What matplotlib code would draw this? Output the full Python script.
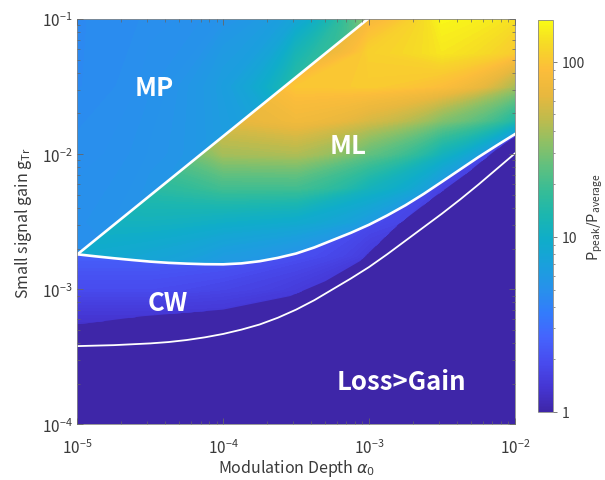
import numpy as np
import matplotlib.pyplot as plt
from matplotlib.colors import LinearSegmentedColormap, LogNorm, Normalize
from matplotlib.patches import Polygon
from matplotlib.cm import ScalarMappable

plt.rcParams['font.family'] = ['Noto Sans CJK JP', 'DejaVu Sans']

# ---- data (log10 of alpha0, log10 of gTr, log10 of Ppeak/Paverage) ----
# mode-locked (ML) region, rows follow ml_logy
ml_logx = [-5.0, -4.5, -4.0, -3.5, -3.0, -2.5, -2.0]
ml_logy = [-3.0, -2.75, -2.5, -2.25, -2.0, -1.75, -1.5, -1.25, -1.0]
ml_logp = [
    [0.80, 0.80, 0.70, 0.65, 0.55, 0.45, 0.40],
    [0.95, 0.90, 0.80, 0.72, 0.60, 0.50, 0.40],
    [1.05, 1.05, 1.00, 0.95, 0.80, 0.55, 0.40],
    [1.15, 1.20, 1.30, 1.30, 1.06, 0.75, 0.45],
    [1.25, 1.35, 1.60, 1.63, 1.40, 1.05, 0.45],
    [1.35, 1.50, 1.80, 1.88, 1.75, 1.50, 1.15],
    [1.45, 1.60, 1.85, 2.00, 2.02, 1.95, 1.60],
    [1.55, 1.65, 1.75, 1.75, 2.05, 2.15, 2.02],
    [1.60, 1.70, 1.70, 1.65, 1.90, 2.22, 2.12],
]

# multi-pulse (MP) region
mp_logx = [-5.0, -4.5, -4.0, -3.5, -3.0]
mp_logy = [-2.75, -2.5, -2.0, -1.5, -1.0]
mp_logp = [
    [0.68, 0.74, 0.78, 0.82, 0.85],
    [0.70, 0.75, 0.82, 0.86, 0.90],
    [0.68, 0.72, 0.80, 0.92, 1.00],
    [0.66, 0.70, 0.82, 1.20, 1.40],
    [0.66, 0.68, 0.72, 0.88, 1.60],
]

# continuous-wave (CW) band
cw_logx = [-5.0, -4.5, -4.0, -3.5, -3.0, -2.5, -2.0]
cw_logy = [-3.25, -3.0, -2.75, -2.5, -2.25, -2.0, -1.75]
cw_logp = [
    [0.12, 0.12, 0.12, 0.10, 0.08, 0.08, 0.08],
    [0.28, 0.28, 0.24, 0.18, 0.12, 0.10, 0.10],
    [0.40, 0.40, 0.38, 0.30, 0.18, 0.12, 0.10],
    [0.45, 0.45, 0.45, 0.40, 0.28, 0.15, 0.12],
    [0.45, 0.45, 0.45, 0.42, 0.35, 0.22, 0.15],
    [0.45, 0.45, 0.45, 0.42, 0.38, 0.30, 0.20],
    [0.45, 0.45, 0.45, 0.42, 0.38, 0.35, 0.25],
]

# boundary lines
mp_line_logx = [-5.0, -3.008]
mp_line_logy = [-2.741, -1.0]
upper_logx = [-5.0, -4.875, -4.75, -4.625, -4.5, -4.375, -4.25, -4.125, -4.0,
              -3.875, -3.75, -3.625, -3.5, -3.375, -3.25, -3.125, -3.0,
              -2.875, -2.75, -2.625, -2.5, -2.375, -2.25, -2.125, -2.0]
upper_logy = [-2.741, -2.756, -2.770, -2.783, -2.795, -2.804, -2.810, -2.814, -2.815,
              -2.808, -2.792, -2.767, -2.735, -2.690, -2.636, -2.582, -2.522,
              -2.453, -2.378, -2.294, -2.204, -2.113, -2.022, -1.936, -1.852]
lower_logx = [-5.0, -4.75, -4.5, -4.375, -4.25, -4.125, -4.0, -3.875, -3.75,
              -3.625, -3.5, -3.375, -3.25, -3.125, -3.0, -2.875, -2.75,
              -2.625, -2.5, -2.375, -2.25, -2.125, -2.0]
lower_logy = [-3.420, -3.413, -3.400, -3.390, -3.375, -3.355, -3.330, -3.298, -3.260,
              -3.210, -3.150, -3.080, -3.000, -2.920, -2.835, -2.740, -2.640,
              -2.540, -2.440, -2.335, -2.225, -2.110, -1.995]
# lower edge of the CW band (below it Ppeak/Paverage = 1)
edge_logx = [-5.0, -4.56, -4.0, -3.54, -3.30, -3.06, -2.80, -2.57, -2.34, -2.12, -2.0]
edge_logy = [-3.26, -3.20, -3.15, -3.05, -2.94, -2.79, -2.52, -2.33, -2.15, -1.96, -1.87]

labels = ['MP', 'ML', 'CW', 'Loss>Gain']
label_x = [3.37e-5, 7.16e-4, 4.18e-5, 1.68e-3]
label_y = [3.12e-2, 1.15e-2, 8.0e-4, 2.08e-4]

# parula-like colormap
parula = LinearSegmentedColormap.from_list('parula', [
    (0.00, '#3e26a8'), (0.06, '#4535d2'), (0.125, '#484bee'), (0.19, '#4564fd'),
    (0.25, '#337bfc'), (0.31, '#2890ec'), (0.375, '#1aa0dc'), (0.44, '#0fadc9'),
    (0.50, '#1bb6b0'), (0.56, '#34bc98'), (0.625, '#5ec080'), (0.69, '#90c064'),
    (0.75, '#c0bb4c'), (0.81, '#e8b83e'), (0.875, '#fcbd3a'), (0.94, '#f6da26'),
    (1.00, '#f9fb15')])
pmax = 173
norm = LogNorm(vmin=1, vmax=pmax)
lnorm = Normalize(vmin=0, vmax=np.log10(pmax))
levels = np.linspace(0, np.log10(pmax), 160)


def pw(a):
    return 10.0 ** np.asarray(a, dtype=float)


fig = plt.figure(figsize=(6.05, 4.81), dpi=100)
ax = fig.add_axes([0.128, 0.1154, 0.723, 0.843])
cax = fig.add_axes([0.889, 0.1414, 0.0248, 0.815])

ax.set_xscale('log')
ax.set_yscale('log')
ax.set_xlim(1e-5, 1e-2)
ax.set_ylim(1e-4, 1e-1)
ax.set_facecolor(parula(0.0))

ml_poly = list(zip(pw(mp_line_logx), pw(mp_line_logy))) + [(1e-2, 1e-1)] + \
    list(zip(pw(upper_logx), pw(upper_logy)))[::-1]
mp_poly = [(1e-5, pw(mp_line_logy[0])), (1e-5, 1e-1), (pw(mp_line_logx[1]), 1e-1)]
cw_poly = list(zip(pw(upper_logx), pw(upper_logy))) + \
    list(zip(pw(edge_logx), pw(edge_logy)))[::-1]

for gx, gy, gz, poly in [(ml_logx, ml_logy, ml_logp, ml_poly),
                         (mp_logx, mp_logy, mp_logp, mp_poly),
                         (cw_logx, cw_logy, cw_logp, cw_poly)]:
    X, Y = np.meshgrid(pw(gx), pw(gy))
    cs = ax.contourf(X, Y, np.array(gz), levels=levels, cmap=parula,
                     norm=lnorm, extend='both')
    cs.set_edgecolor('face')
    cs.set_linewidth(0.3)
    cs.set_clip_path(Polygon(poly, closed=True, transform=ax.transData))

ax.plot(pw(mp_line_logx), pw(mp_line_logy), color='white', lw=1.9)
ax.plot(pw(upper_logx), pw(upper_logy), color='white', lw=1.9)
ax.plot(pw(lower_logx), pw(lower_logy), color='white', lw=1.3)

for t, x, y in zip(labels, label_x, label_y):
    ax.text(x, y, t, color='white', fontsize=18.5, fontweight='bold',
            ha='center', va='center')

ax.set_axisbelow(False)
ax.tick_params(which='both', direction='in', top=True, right=True,
               color='#666666', labelcolor='#3a3a3a', labelsize=11)
ax.tick_params(axis='x', which='major', pad=10)
ax.tick_params(which='major', length=4, width=0.6)
ax.tick_params(which='minor', length=2, width=0.5)
for s in ax.spines.values():
    s.set_color('#888888')
    s.set_linewidth(0.6)

ax.set_xlabel(r'Modulation Depth $\alpha_0$', fontsize=11.5, color='#3a3a3a', labelpad=0)
ax.set_ylabel(r'Small signal gain g$_\mathregular{Tr}$', fontsize=11.5, color='#3a3a3a', labelpad=6)

cb = fig.colorbar(ScalarMappable(norm=norm, cmap=parula), cax=cax)
cb.set_ticks([1, 10, 100])
cb.set_ticklabels(['1', '10', '100'])
cb.outline.set_edgecolor('#888888')
cb.outline.set_linewidth(0.6)
cax.tick_params(which='both', color='#666666', labelcolor='#3a3a3a', labelsize=10)
cax.tick_params(which='major', length=3, width=0.6)
cax.tick_params(which='minor', length=1.5, width=0.5)
cb.set_label(r'P$_\mathregular{peak}$/P$_\mathregular{average}$', fontsize=10.5,
             color='#3a3a3a', labelpad=0)

fig.savefig('out.png', dpi=100)
